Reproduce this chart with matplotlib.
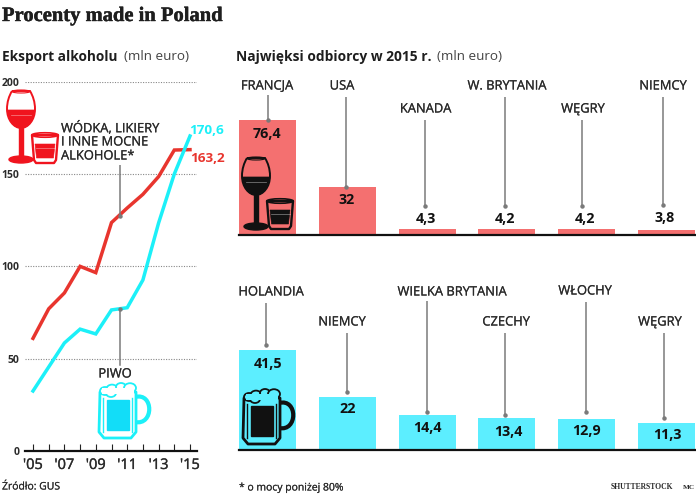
#!/usr/bin/env python3
"""
Procenty made in Poland - eksport alkoholu
Output: out.png
"""
import matplotlib
matplotlib.use('Agg')
import matplotlib.pyplot as plt
import matplotlib.patheffects as pe
from matplotlib.patches import Ellipse, PathPatch, Polygon, Rectangle
from matplotlib.path import Path

W, H = 696, 494

plt.rcParams['font.family'] = ['Open Sans', 'DejaVu Sans']

# ─── Data ─────────────────────────────────────────────────────────────────────

years = list(range(2005, 2016))
spirits = [61, 77, 85.6, 100, 96.6, 123.7, 131.6, 139, 148.6, 163, 163.2]
beer = [32.5, 45.5, 58.5, 66, 63.4, 76.4, 77.6, 92.6, 123.5, 150, 170.6]

top_names = ['FRANCJA', 'USA', 'KANADA', 'W. BRYTANIA', 'WĘGRY', 'NIEMCY']
top_values = [76.4, 32, 4.3, 4.2, 4.2, 3.8]
low_names = ['HOLANDIA', 'NIEMCY', 'WIELKA BRYTANIA', 'CZECHY', 'WŁOCHY', 'WĘGRY']
low_values = [41.5, 22, 14.4, 13.4, 12.9, 11.3]

RED = '#E8352E'
CYAN = '#1CF0F8'
BAR_RED = '#F47070'
BAR_CYAN = '#5CEEFF'
ICON_RED = '#F0141E'
INK = '#2B2B2B'
GREY = '#7A7A7A'


def px_axes(fig, left, top, right, bottom):
    return fig.add_axes([left / W, 1 - bottom / H, (right - left) / W, (bottom - top) / H])


def comma(v):
    return f'{v:g}'.replace('.', ',')


def bars(ax, values, color, scale_top):
    ax.bar(range(len(values)), values, width=0.714, color=color, zorder=2)
    ax.set_xlim(-0.357, 5.37)
    ax.set_ylim(0, scale_top)
    for s in ['top', 'left', 'right']:
        ax.spines[s].set_visible(False)
    ax.spines['bottom'].set_linewidth(1.6)
    ax.spines['bottom'].set_color('#111111')
    ax.set_xticks([])
    ax.set_yticks([])
    ax.patch.set_alpha(0)


# ─── Icons (pixel coordinates, y down) ────────────────────────────────────────

def curve(ax, verts, codes, **kw):
    ax.add_patch(PathPatch(Path(verts, codes), **kw))


def wine(ax, x, y, col):
    M, L, C = Path.MOVETO, Path.LINETO, Path.CURVE4
    # bowl
    pts = [(5, 1), (23, 1), (26, 6), (28, 12), (28, 19), (28, 30), (21, 38), (14, 38),
           (7, 38), (0, 30), (0, 19), (0, 12), (2, 6), (5, 1)]
    curve(ax, [(x + a, y + b) for a, b in pts], [M, L] + [C] * 12,
          facecolor='none', edgecolor=col, lw=1.4, zorder=6)
    ax.add_patch(Ellipse((x + 14, y + 1.5), 18, 3, facecolor='none', edgecolor=col, lw=0.8, zorder=6))
    # wine
    pts = [(0.5, 20), (27.5, 20), (27.5, 30), (21, 38), (14, 38), (7, 38), (0.5, 30), (0.5, 20)]
    curve(ax, [(x + a, y + b) for a, b in pts], [M, L, C, C, C, C, C, C],
          facecolor=col, edgecolor=col, lw=0.5, zorder=6)
    ax.plot([x + 4, x + 24], [y + 25, y + 25], color='white', lw=0.5, alpha=0.5, zorder=7)
    # stem and foot
    ax.add_patch(Rectangle((x + 12.4, y + 38), 3.2, 31, color=col, zorder=6))
    ax.add_patch(Ellipse((x + 14, y + 69.5), 24, 7, color=col, zorder=6))


def shot(ax, x, y, col):
    pts = [(0, 3), (26, 3), (24, 28), (22, 31), (4, 31), (2, 28)]
    ax.add_patch(Polygon([(x + a, y + b) for a, b in pts], closed=True,
                         facecolor='none', edgecolor=col, lw=1.7, joinstyle='round', zorder=6))
    ax.add_patch(Ellipse((x + 13, y + 3), 26, 4.5, facecolor='none', edgecolor=col, lw=1.2, zorder=6))
    pts = [(3, 12), (23, 12), (21.5, 26), (4.5, 26)]
    ax.add_patch(Polygon([(x + a, y + b) for a, b in pts], closed=True,
                         facecolor=col, edgecolor=col, lw=0.4, zorder=6))
    ax.plot([x + 3.5, x + 22.5], [y + 16, y + 16], color='white', lw=0.5, alpha=0.5, zorder=7)


def mug(ax, x, y, col, liquid, fill):
    M, C = Path.MOVETO, Path.CURVE4
    # handle
    pts = [(36, 15), (55, 10), (55, 44), (36, 40)]
    curve(ax, [(x + a, y + b) for a, b in pts], [M, C, C, C], facecolor='none',
          edgecolor=col, lw=3.0, zorder=6)
    # body
    pts = [(1, 10), (37, 10), (37, 50), (32, 56), (5, 56), (0, 50)]
    ax.add_patch(Polygon([(x + a, y + b) for a, b in pts], closed=True,
                         facecolor=fill, edgecolor=col, lw=2.0, joinstyle='round', zorder=6))
    # foam
    for a, b, r in [(6, 9, 5), (13, 7, 5.5), (22, 5, 5), (31, 6, 6), (12, 11, 5)]:
        ax.add_patch(Ellipse((x + a, y + b), 2 * r, 1.6 * r, facecolor=fill,
                             edgecolor=col, lw=1.3, zorder=7))
    ax.add_patch(Rectangle((x + 3, y + 6), 32, 5.5, facecolor=fill, edgecolor='none', zorder=7))
    ax.add_patch(Rectangle((x + 8, y + 18), 21.5, 30, color=liquid, zorder=7))
    ax.plot([x + 4, x + 4], [y + 16, y + 50], color=col, lw=1.0, zorder=7)
    ax.plot([x + 33, x + 33], [y + 16, y + 50], color=col, lw=1.0, zorder=7)


# ─── Figure ───────────────────────────────────────────────────────────────────

fig = plt.figure(figsize=(W / 100, H / 100), dpi=100, facecolor='white')

# ─── Line chart ───────────────────────────────────────────────────────────────

ax = px_axes(fig, 25, 81.7, 197, 451)
ax.plot(years, spirits, color=RED, lw=2.5, solid_joinstyle='miter', zorder=3)
ax.plot(years, beer, color=CYAN, lw=2.5, solid_joinstyle='miter', zorder=4)
ax.set_xlim(2005 - 8 / 15.7, 2015 + 7 / 15.7)
ax.set_ylim(0, 200)
for s in ['top', 'left', 'right']:
    ax.spines[s].set_visible(False)
ax.spines['bottom'].set_linewidth(1.6)
ax.spines['bottom'].set_color('#111111')
ax.set_yticks([0, 50, 100, 150, 200])
ax.tick_params(axis='y', length=0, pad=4, labelsize=7.5, labelcolor=INK)
for lab in ax.get_yticklabels():
    lab.set_fontweight('bold')
ax.grid(axis='y', color='#888888', ls=(0, (1, 1.3)), lw=0.8, zorder=1)
ax.set_axisbelow(True)
ax.set_xticks(years)
ax.set_xticklabels([f"'{str(y)[2:]}" if y % 2 else '' for y in years], fontsize=10.5, color=INK)
ax.tick_params(axis='x', direction='in', length=5, width=0.8, color='#222222', pad=5)
for lab in ax.get_xticklabels():
    lab.set_path_effects([pe.withStroke(linewidth=0.25, foreground=INK)])
ax.patch.set_alpha(0)

# ─── Bar charts ───────────────────────────────────────────────────────────────

ax_top = px_axes(fig, 239, 80, 696, 235.3)
bars(ax_top, top_values, BAR_RED, 155.3 / 1.508)
ax_low = px_axes(fig, 239, 290, 696, 450)
bars(ax_low, low_values, BAR_CYAN, 160 / 2.417)

# ─── Overlay: text, leaders, icons ────────────────────────────────────────────

ov = fig.add_axes([0, 0, 1, 1], zorder=10)
ov.set_xlim(0, W)
ov.set_ylim(H, 0)
ov.axis('off')


def txt(x, y, s, size=9.3, weight='normal', color=INK, ha='center', stroke=0.0, **kw):
    t = ov.text(x, y, s, fontsize=size, fontweight=weight, color=color, ha=ha, va='center', zorder=12, **kw)
    if stroke:
        t.set_path_effects([pe.withStroke(linewidth=stroke, foreground=color)])


def leader(x, y1, y2):
    ov.plot([x, x], [y1, y2], color=GREY, lw=1.1, zorder=11, solid_capstyle='butt')
    ov.plot([x], [y2], 'o', ms=2.2, color=GREY, zorder=11)


txt(2, 16, 'Procenty made in Poland', size=14.8, weight='bold', color='#1E1E1E', ha='left',
    family='Liberation Serif', stroke=0.3)
txt(2, 56.5, 'Eksport alkoholu', size=9.8, weight='bold', color='#1E1E1E', ha='left')
txt(124, 56.5, '(mln euro)', size=9.7, ha='left', color='#444444')
txt(236, 56.5, 'Najwięksi odbiorcy w 2015 r.', size=9.9, weight='bold', color='#1E1E1E', ha='left')
txt(437, 56.5, '(mln euro)', size=9.7, ha='left', color='#444444')

# line chart labels
txt(61, 128, 'WÓDKA, LIKIERY', ha='left', stroke=0.15)
txt(61, 142, 'I INNE MOCNE', ha='left', stroke=0.15)
txt(61, 156, 'ALKOHOLE*', ha='left', stroke=0.15)
leader(120, 165, 216)
txt(189, 130, comma(beer[-1]), size=9.7, weight='bold', color=CYAN, ha='left')
txt(190, 158, comma(spirits[-1]), size=9.7, weight='bold', color=RED, ha='left')
txt(115, 374, 'PIWO', stroke=0.15)
ov.plot([120, 120], [365, 310], color=GREY, lw=1.1, zorder=11)
ov.plot([120], [309], 'o', ms=2.2, color=GREY, zorder=11)

wine(ov, 7, 90, ICON_RED)
shot(ov, 32, 132, ICON_RED)
mug(ov, 99, 382, CYAN, '#12DDF8', 'white')

# top bars
top_label_xy = [(267, 86), (342, 86), (425.5, 109), (507, 86), (583, 109), (663, 86)]
top_leaders = [(268, 95, 120), (346, 97, 187), (425, 120, 206), (505, 97, 206), (582, 120, 206), (663, 97, 205)]
top_value_xy = [(267, 134), (347, 200), (426, 219), (505, 219), (585, 219), (665, 218)]
for name, v, lxy, ld, vxy in zip(top_names, top_values, top_label_xy, top_leaders, top_value_xy):
    txt(lxy[0], lxy[1], name, stroke=0.15)
    leader(*ld)
    txt(vxy[0], vxy[1], comma(v), size=10.3, weight='bold', color='#111111')

wine(ov, 242, 157, '#111111')
shot(ov, 267, 198, '#111111')

# bottom bars
low_label_xy = [(271, 292), (342, 322), (452, 292), (506, 322), (585, 291), (660, 322)]
low_leaders = [(266, 303, 345), (347, 333, 392), (427, 301, 412), (505, 333, 415), (586, 302, 412), (664, 333, 418)]
low_value_xy = [(268, 364), (348, 409), (427, 428), (508, 432), (586, 431), (667, 435)]
for name, v, lxy, ld, vxy in zip(low_names, low_values, low_label_xy, low_leaders, low_value_xy):
    txt(lxy[0], lxy[1], name, stroke=0.15)
    leader(*ld)
    txt(vxy[0], vxy[1], comma(v), size=10.3, weight='bold', color='#111111')

mug(ov, 243, 388, '#111111', '#111111', BAR_CYAN)

# footer
txt(2, 487, 'Źródło: GUS', size=7.5, ha='left', stroke=0.1)
txt(239, 488, '* o mocy poniżej 80%', size=7.5, ha='left', stroke=0.1)
txt(611, 487, 'SHUTTERSTOCK', size=5.5, weight='bold', ha='left', family='Liberation Serif')
txt(683, 487, 'MC', size=5.2, weight='bold', ha='left', family='Liberation Serif')

fig.savefig('out.png', dpi=100, facecolor='white')
